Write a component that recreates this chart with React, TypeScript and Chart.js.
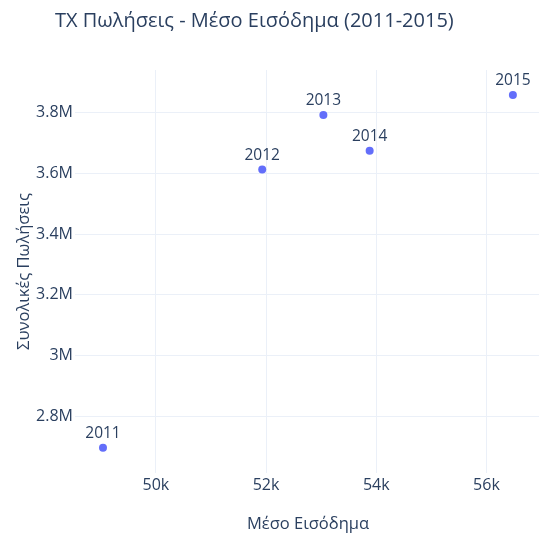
import React, { useEffect, useRef } from "react";
import { Chart, registerables } from "chart.js";

Chart.register(...registerables);

const years = ["2011", "2012", "2013", "2014", "2015"];
const income = [49040, 51930, 53040, 53880, 56480];
const sales = [2698000, 3612000, 3791000, 3674000, 3857000];
const xTicks = [50000, 52000, 54000, 56000];
const yTicks = [2800000, 3000000, 3200000, 3400000, 3600000, 3800000];

const titleText = "TX Πωλήσεις - Μέσο Εισόδημα (2011-2015)";
const xTitle = "Μέσο Εισόδημα";
const yTitle = "Συνολικές Πωλήσεις";

const FONT = "'Open Sans', verdana, arial, sans-serif";
const TEXT = "#2a3f5f";
const GRID = "#EBF0F8";

const overlayPlugin = {
  id: "overlay",
  afterDatasetsDraw(chart: any) {
    const ctx = chart.ctx;
    ctx.save();
    ctx.fillStyle = TEXT;
    ctx.font = `15.5px ${FONT}`;
    ctx.textAlign = "center";
    ctx.textBaseline = "alphabetic";
    const meta = chart.getDatasetMeta(0);
    meta.data.forEach((el: any, i: number) => {
      ctx.fillText(years[i], el.x, el.y - 10);
    });
    ctx.font = `20px ${FONT}`;
    ctx.textAlign = "left";
    ctx.textBaseline = "middle";
    ctx.fillText(titleText, 55, 21);
    ctx.restore();
  },
};

export default function App() {
  const ref = useRef<HTMLCanvasElement | null>(null);
  useEffect(() => {
    if (!ref.current) return;
    const chart = new Chart(ref.current, {
      type: "scatter",
      data: {
        datasets: [
          {
            data: income.map((x, i) => ({ x, y: sales[i] })),
            backgroundColor: "#636efa",
            borderColor: "#636efa",
            borderWidth: 0,
            pointRadius: 4,
          },
        ],
      },
      options: {
        animation: false,
        responsive: false,
        maintainAspectRatio: false,
        layout: { padding: { top: 70, left: 0, right: 0, bottom: 0 } },
        plugins: {
          legend: { display: false },
          tooltip: { enabled: false },
          title: { display: false },
        },
        scales: {
          x: {
            type: "linear",
            min: 48532,
            max: 56990,
            afterBuildTicks: (s: any) => {
              s.ticks = xTicks.map((value) => ({ value }));
            },
            afterFit: (s: any) => {
              s.height = 66;
              s.paddingLeft = 0;
              s.paddingRight = 0;
            },
            ticks: {
              padding: 3,
              color: TEXT,
              font: { family: FONT, size: 16 },
              maxRotation: 0,
              autoSkip: false,
              callback: (v: any) => Math.round(Number(v) / 1000) + "k",
            },
            grid: { color: GRID, lineWidth: 1, drawTicks: false },
            border: { display: false },
            title: {
              display: true,
              text: xTitle,
              color: TEXT,
              font: { family: FONT, size: 16.5 },
              padding: { top: 0, bottom: 5 },
            },
          },
          y: {
            type: "linear",
            min: 2615000,
            max: 3939000,
            afterBuildTicks: (s: any) => {
              s.ticks = yTicks.map((value) => ({ value }));
            },
            afterFit: (s: any) => {
              s.width = 75;
              s.paddingTop = 0;
              s.paddingBottom = 0;
            },
            ticks: {
              padding: 2,
              color: TEXT,
              font: { family: FONT, size: 16 },
              autoSkip: false,
              callback: (v: any) => Math.round(Number(v) / 100000) / 10 + "M",
            },
            grid: { color: GRID, lineWidth: 1, drawTicks: false },
            border: { display: false },
            title: {
              display: true,
              text: yTitle,
              color: TEXT,
              font: { family: FONT, size: 16.5 },
              padding: { top: 14, bottom: 0 },
            },
          },
        },
      },
      plugins: [overlayPlugin],
    });
    return () => chart.destroy();
  }, []);
  return (
    <div
      style={{
        position: "absolute",
        left: 0,
        top: 0,
        width: 539,
        height: 539,
        overflow: "hidden",
        background: "#fff",
      }}
    >
      <canvas ref={ref} width={545} height={539} style={{ display: "block", width: 545, height: 539 }} />
    </div>
  );
}
